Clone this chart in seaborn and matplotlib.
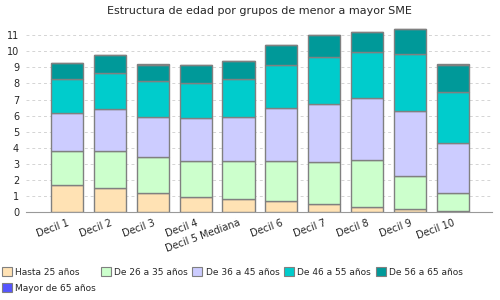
import numpy as np
import pandas as pd
import seaborn as sns
import matplotlib.pyplot as plt
from matplotlib.patches import Patch

deciles = ['Decil 1', 'Decil 2', 'Decil 3', 'Decil 4', 'Decil 5 Mediana',
           'Decil 6', 'Decil 7', 'Decil 8', 'Decil 9', 'Decil 10']
hasta_25 = [1.67, 1.49, 1.18, 0.93, 0.81, 0.68, 0.52, 0.31, 0.19, 0.06]
de_26_35 = [2.16, 2.29, 2.23, 2.23, 2.35, 2.48, 2.58, 2.92, 2.06, 1.12]
de_36_45 = [2.35, 2.61, 2.52, 2.67, 2.77, 3.29, 3.60, 3.84, 4.02, 3.10]
de_46_55 = [2.07, 2.23, 2.20, 2.17, 2.32, 2.67, 2.96, 2.86, 3.53, 3.16]
de_56_65 = [0.99, 1.12, 1.03, 1.12, 1.12, 1.24, 1.32, 1.24, 1.55, 1.72]
mayor_65 = [0.04, 0.05, 0.04, 0.03, 0.03, 0.03, 0.05, 0.04, 0.04, 0.03]

series = ['Hasta 25 años', 'De 26 a 35 años', 'De 36 a 45 años',
          'De 46 a 55 años', 'De 56 a 65 años', 'Mayor de 65 años']
colors = ['#FFE2B4', '#CCFFCC', '#CCCCFF', '#00CCCC', '#009999', '#5555FF']

df = pd.DataFrame({'Decil': deciles, series[0]: hasta_25, series[1]: de_26_35,
                   series[2]: de_36_45, series[3]: de_46_55,
                   series[4]: de_56_65, series[5]: mayor_65})

sns.set_style('white')
plt.rcParams['font.family'] = ['DejaVu Sans']

fig = plt.figure(figsize=(5, 3), dpi=100)
ax = fig.add_axes([0.052, 0.292, 0.932, 0.618])

bottom = np.zeros(len(deciles))
for name, col in zip(series, colors):
    sns.barplot(data=df, x='Decil', y=name, color=col, bottom=bottom,
                width=0.75, edgecolor='#808080', linewidth=1.0,
                saturation=1, ax=ax, zorder=3)
    bottom = bottom + df[name].values

ax.set_ylim(0, 11.5)
ax.set_xlim(-0.96, 9.92)
ax.set_yticks(range(0, 12))
ax.yaxis.grid(True, linestyle=(0, (3, 3)), color='#d4d4d4', linewidth=0.7, zorder=0)
ax.set_xlabel('')
ax.set_ylabel('')
for s in ['top', 'right', 'left']:
    ax.spines[s].set_visible(False)
ax.spines['bottom'].set_color('#999999')
ax.tick_params(axis='y', labelsize=7, length=0, pad=5)
ax.tick_params(axis='x', labelsize=7, length=0, pad=4)
plt.setp(ax.get_xticklabels(), rotation=20, ha='right', rotation_mode='anchor')

ax.set_title('Estructura de edad por grupos de menor a mayor SME', fontsize=8, pad=9)

handles = [Patch(facecolor=c, edgecolor='#808080', linewidth=0.8) for c in colors]
order = [0, 5, 1, 2, 3, 4]
fig.legend([handles[i] for i in order], [series[i] for i in order],
           ncol=5, loc='upper left', bbox_to_anchor=(0.0, 0.115),
           frameon=False, fontsize=6.5, handlelength=1.1, handleheight=1.1,
           handletextpad=0.35, columnspacing=0.55, labelspacing=0.75,
           borderaxespad=0, borderpad=0.2)

fig.savefig('out.png', dpi=100)
plt.close()
